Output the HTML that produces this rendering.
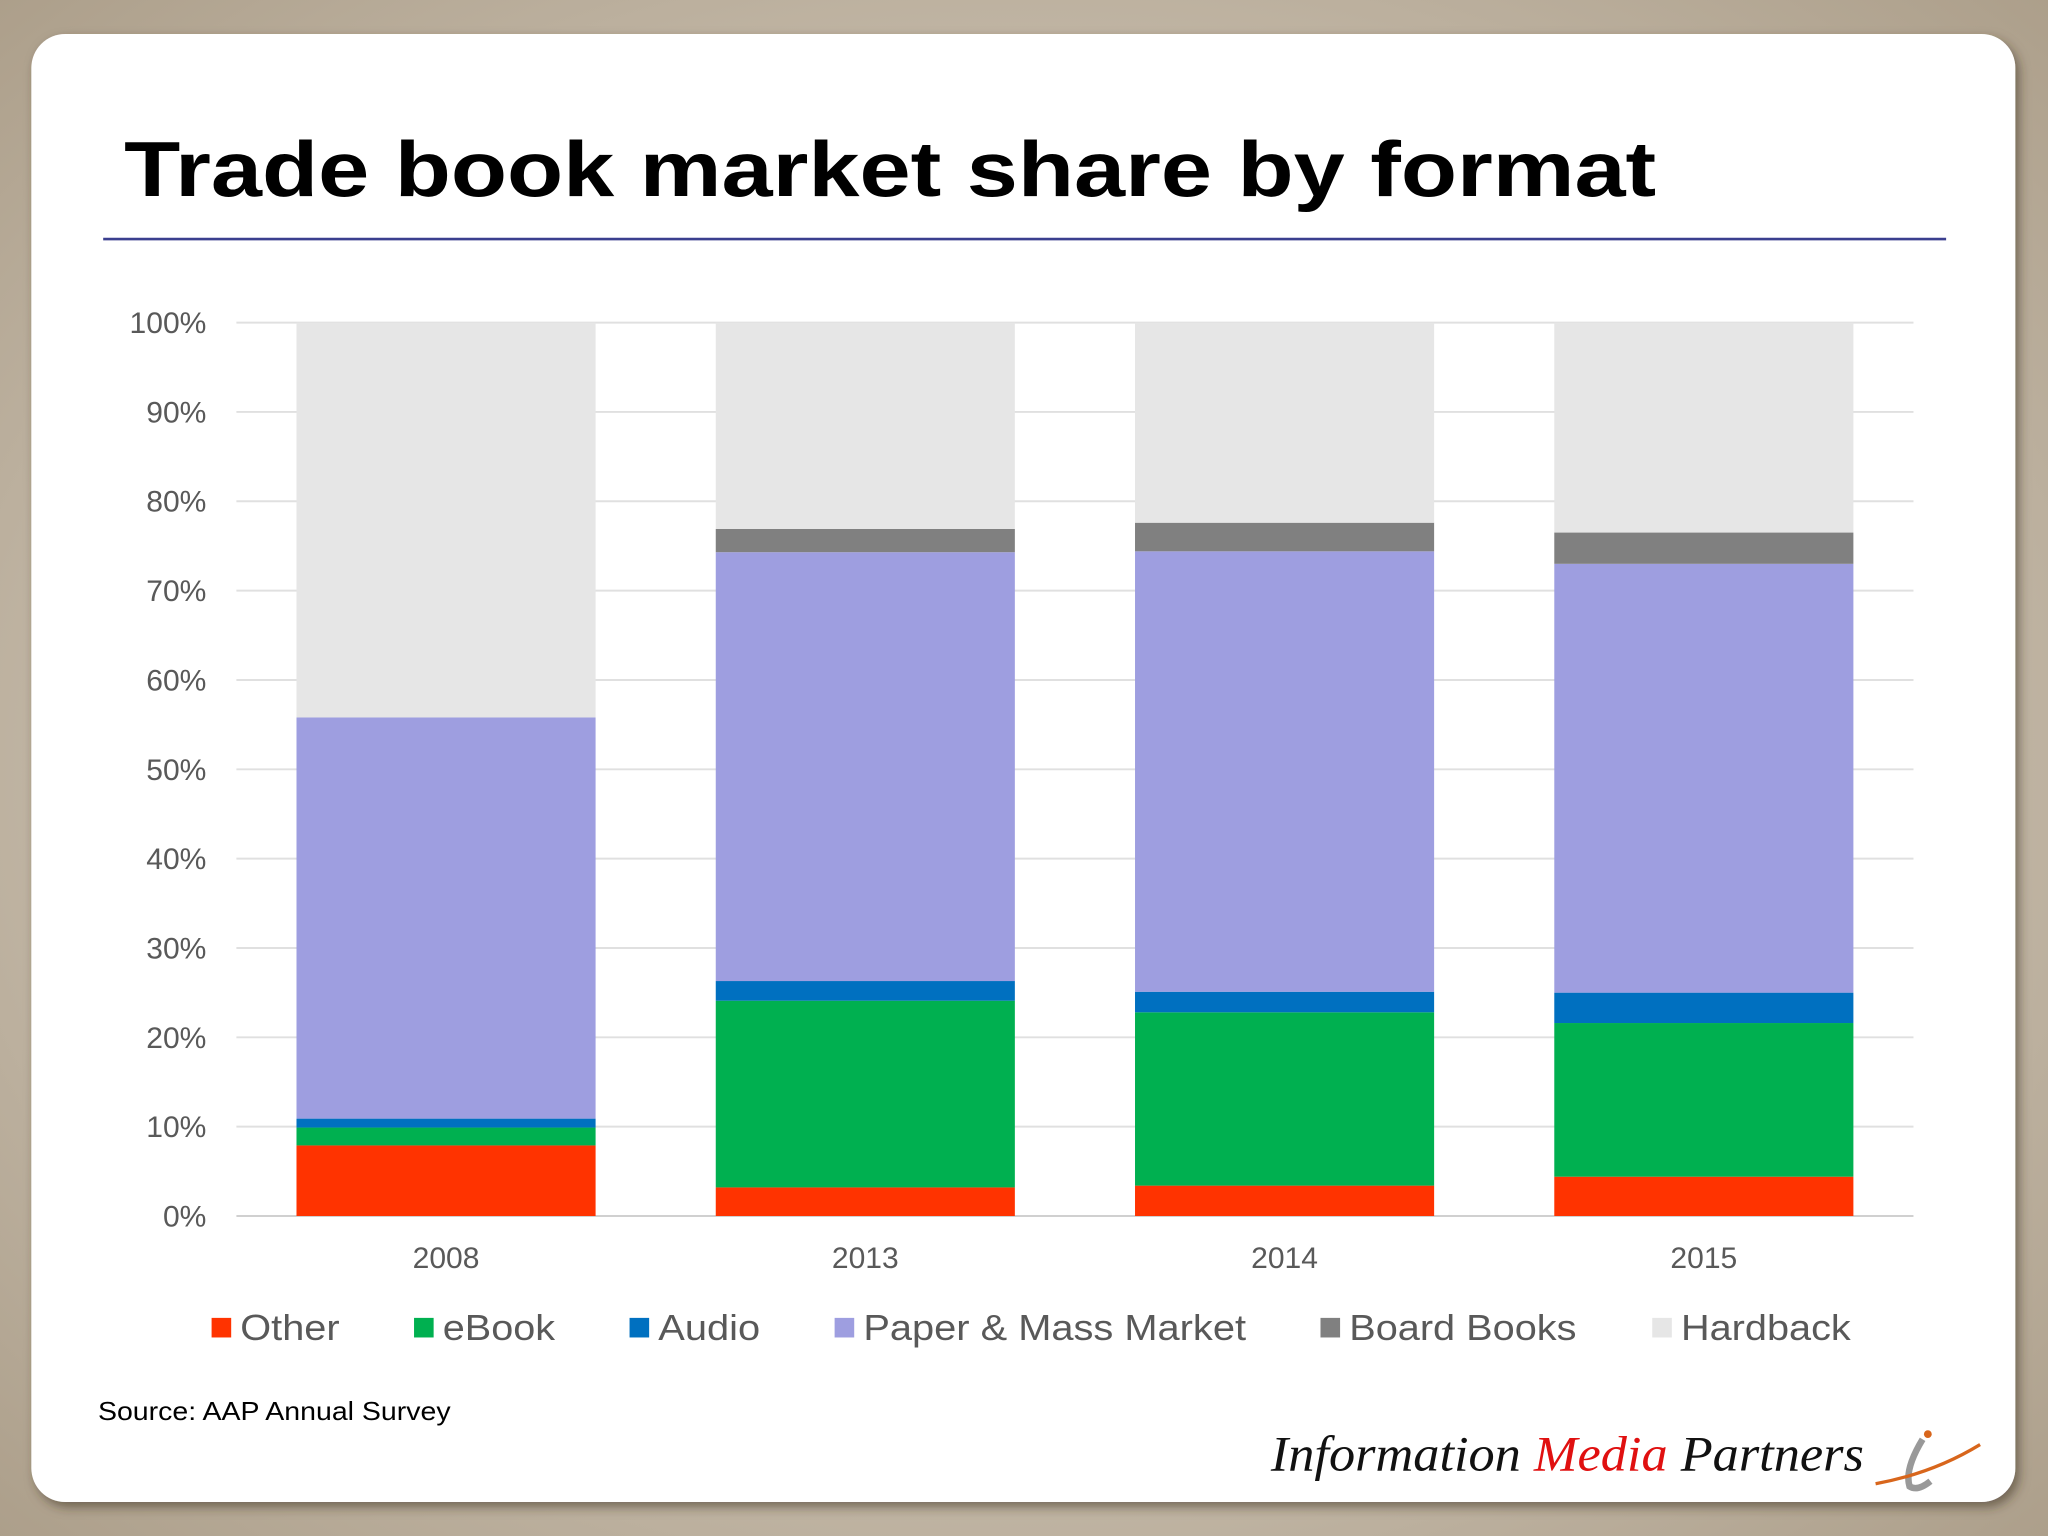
<!DOCTYPE html>
<html><head><meta charset="utf-8"><style>
html,body{margin:0;padding:0;width:2048px;height:1536px;overflow:hidden;background:#b9ad9c;}
svg{display:block;font-family:"Liberation Sans",Arial,sans-serif;}
</style></head><body>
<svg id="chart" width="2048" height="1536" viewBox="0 0 1568 1176" xmlns="http://www.w3.org/2000/svg">
<defs>
<radialGradient id="bg" cx="50%" cy="50%" r="75%"><stop offset="0" stop-color="#e7e0d5"/><stop offset="1" stop-color="#a99b86"/></radialGradient>
<filter id="sh" x="-5%" y="-5%" width="110%" height="110%"><feDropShadow dx="3" dy="4" stdDeviation="4" flood-color="#3a2f20" flood-opacity="0.55"/></filter>
</defs>
<rect x="0" y="0" width="1568" height="1176" fill="url(#bg)"/>
<rect x="24" y="26" width="1519" height="1124" rx="26" fill="#ffffff" filter="url(#sh)"/>
<text x="95" y="150" font-size="60" font-weight="900" fill="#000" textLength="1173" lengthAdjust="spacingAndGlyphs">Trade book market share by format</text>
<line x1="79" y1="183" x2="1490" y2="183" stroke="#3b3f8f" stroke-width="2"/>
<g id="grid"></g>
<g id="bars"></g>
<g id="xlabels"></g>
<g id="legend"></g>
<text x="75" y="1087" font-size="20" fill="#000" textLength="270" lengthAdjust="spacingAndGlyphs">Source: AAP Annual Survey</text>
<g>
<text x="973" y="1126" font-family="Liberation Serif,serif" font-style="italic" font-size="38" fill="#111" textLength="454" lengthAdjust="spacingAndGlyphs">Information <tspan fill="#e01010">Media</tspan> Partners</text>
<path d="M1472 1102 Q1458 1125 1462 1138 Q1468 1142 1478 1134" stroke="#999" stroke-width="5" fill="none"/>
<path d="M1436 1136 Q1480 1128 1516 1106" stroke="#d8661c" stroke-width="2.5" fill="none"/>
<circle cx="1476" cy="1098" r="3" fill="#d8661c"/>
</g>
</svg>
<script>
const categories=["2008","2013","2014","2015"];
const seriesNames=["Other","eBook","Audio","Paper & Mass Market","Board Books","Hardback"];
const seriesColors=["#ff3300","#00b050","#0070c0","#9e9ee0","#808080","#e6e6e6"];
const other=[7.9,3.2,3.4,4.4];
const ebook=[2.0,20.9,19.4,17.2];
const audio=[1.0,2.2,2.3,3.4];
const paper=[44.9,48.0,49.3,48.0];
const board=[0,2.6,3.2,3.5];
const hardback=[44.2,23.1,22.4,23.5];
const yTicks=[0,10,20,30,40,50,60,70,80,90,100];
const series=[other,ebook,audio,paper,board,hardback];
const NS="http://www.w3.org/2000/svg";
const plotL=181,plotR=1465,y0=931,y100=247;
const yScale=v=>y0-(v/100)*(y0-y100);
const band=(plotR-plotL)/categories.length;
const xCenter=i=>plotL+band*(i+0.5);
const barW=229;
function mk(tag,attrs,parent){const e=document.createElementNS(NS,tag);for(const k in attrs)e.setAttribute(k,attrs[k]);parent.appendChild(e);return e;}
const grid=document.getElementById('grid');
yTicks.forEach(t=>{
  const l=mk('line',{x1:plotL,x2:plotR,y1:yScale(t),y2:yScale(t),stroke:t===0?'#d0d0d0':'#e0e0e0','stroke-width':1.5},grid);
  
  
  const tx=mk('text',{x:158,y:yScale(t)+8,'text-anchor':'end','font-size':23,fill:'#595959'},grid);
  tx.textContent=t+'%';
  
  
});
const bars=document.getElementById('bars');
categories.forEach((c,i)=>{
  let cum=0;
  series.forEach((s,j)=>{
    const v=s[i];
    const r=mk('rect',{x:xCenter(i)-barW/2,y:yScale(cum+v),width:barW,height:yScale(cum)-yScale(cum+v),fill:seriesColors[j]},bars);
    
    
    cum+=v;
  });
  const tx=mk('text',{x:xCenter(i),y:971,'text-anchor':'middle','font-size':23,fill:'#595959'},document.getElementById('xlabels'));
  tx.textContent=c;
  
  
});
const legX=[162,317,482,639,1011,1265];
const legW=[76,86,78,293,174,130];
const leg=document.getElementById('legend');
seriesNames.forEach((n,j)=>{
  const g=mk('g',{},leg);
  
  
  mk('rect',{x:legX[j],y:1009,width:15,height:15,fill:seriesColors[j]},g);
  const t=mk('text',{x:legX[j]+22,y:1026,'font-size':28,fill:'#595959',textLength:legW[j],lengthAdjust:'spacingAndGlyphs'},g);
  t.textContent=n;
});
</script>
</body></html>
